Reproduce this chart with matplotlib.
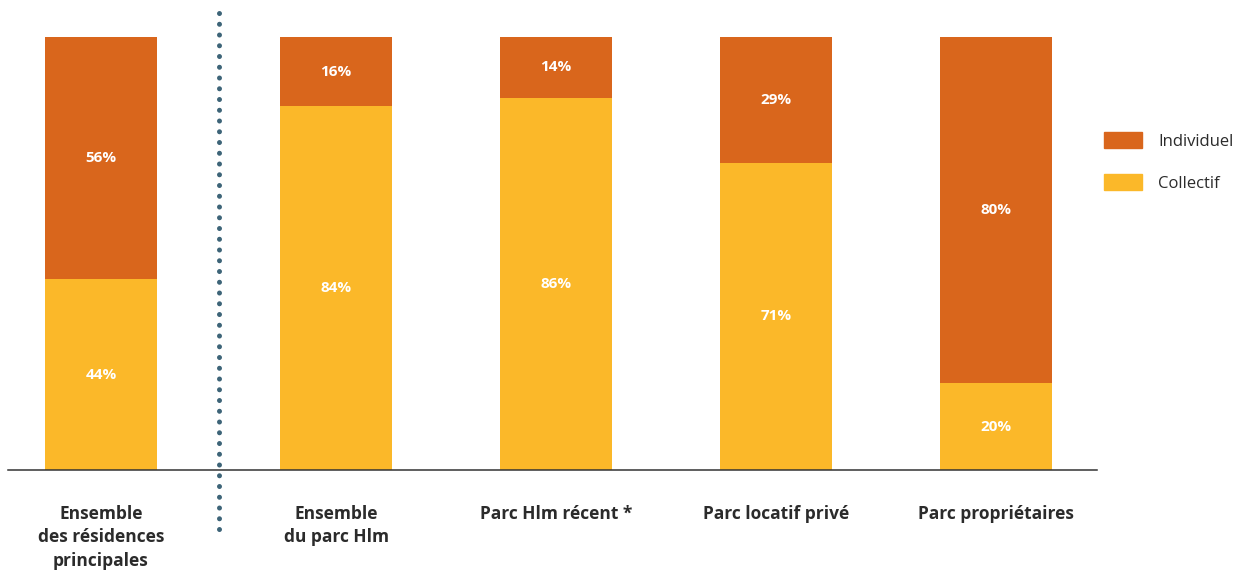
import matplotlib
matplotlib.use("Agg")
import matplotlib.pyplot as plt
from matplotlib.patches import Patch

categories = ["Ensemble\ndes résidences\nprincipales", "Ensemble\ndu parc Hlm",
              "Parc Hlm récent *", "Parc locatif privé", "Parc propriétaires"]
collectif = [44, 84, 86, 71, 20]
individuel = [56, 16, 14, 29, 80]
series_names = ["Individuel", "Collectif"]

c_ind = "#D9661C"
c_col = "#FBB829"

W, H = 1248, 571
fig = plt.figure(figsize=(W / 100, H / 100), dpi=100)
plt.rcParams['font.family'] = ['Open Sans', 'DejaVu Sans']

# axes in pixel layout
left_px, right_px, top_px, base_px = 8, 1097, 37, 470
ax = fig.add_axes([left_px / W, 1 - base_px / H, (right_px - left_px) / W, (base_px - top_px) / H])

unit = 220.0
xpos = [0, 235 / unit, 455 / unit, 675 / unit, 895 / unit]
width = 112 / unit

ax.bar(xpos, collectif, width=width, color=c_col, label=series_names[1])
ax.bar(xpos, individuel, width=width, bottom=collectif, color=c_ind, label=series_names[0])

for x, c, i in zip(xpos, collectif, individuel):
    ax.text(x, c / 2, f"{c}%", ha="center", va="center", color="white",
            fontsize=11, fontweight="bold")
    ax.text(x, c + i / 2, f"{i}%", ha="center", va="center", color="white",
            fontsize=11, fontweight="bold")

ax.set_xlim((left_px - 101) / unit, (right_px - 101) / unit)
ax.set_ylim(0, 100)
for s in ["top", "right", "left"]:
    ax.spines[s].set_visible(False)
ax.spines["bottom"].set_color("#333333")
ax.spines["bottom"].set_linewidth(1.1)
ax.set_yticks([])
ax.set_xticks(xpos)
ax.set_xticklabels(categories, fontsize=12.5, fontweight="bold", color="#2b2b2b", linespacing=1.4)
ax.tick_params(axis="x", length=0, pad=25)

# dotted separator
sep_x = 118 / unit
px2data = 100 / (base_px - top_px)
ax.plot([sep_x, sep_x], [(base_px - 13) * px2data, (base_px - 536) * px2data],
        color="#3d6478", linewidth=3.6, linestyle=(0, (0.01, 2.14)),
        dash_capstyle="round", clip_on=False)

handles = [Patch(color=c_ind), Patch(color=c_col)]
fig.legend(handles, series_names, loc="upper left",
           bbox_to_anchor=(1104 / W, 1 - 132 / H), frameon=False,
           borderpad=0, borderaxespad=0, handlelength=2.3, handleheight=1.1,
           handletextpad=0.95, labelspacing=1.45, fontsize=12,
           labelcolor="#2b2b2b")

fig.savefig("out.png", dpi=100)
